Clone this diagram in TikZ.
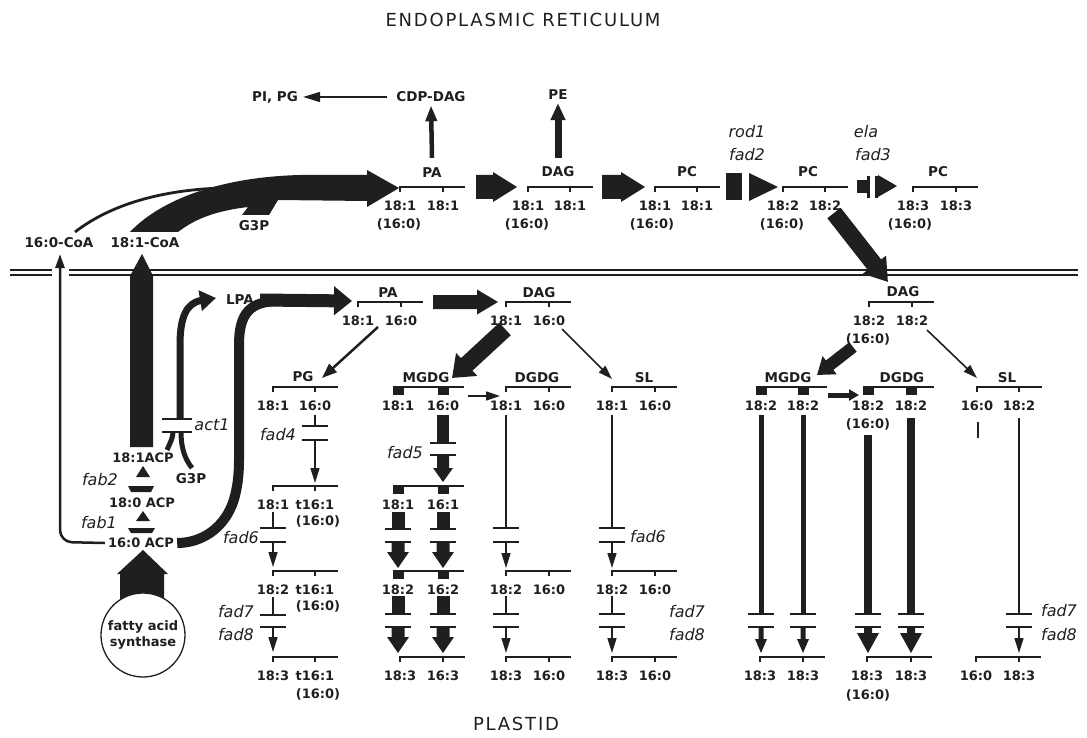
\documentclass[tikz,border=0pt]{standalone}
\usepackage{fontspec}
\setmainfont{DejaVu Sans}
\newfontfamily\titlefont[LetterSpace=10]{DejaVu Sans}
\usetikzlibrary{arrows.meta}
\definecolor{ink}{gray}{0.12}

% fatty-acid bracket: name, x, y, label1, label2, tick spacing
\newcommand{\Brk}[6]{%
  \draw[brk] (#2,#3+5) -- (#2,#3) -- (#2+65,#3);
  \draw[brk] (#2+#6,#3) -- (#2+#6,#3+5);
  \node[num] (#1a) at (#2,#3+18.5) {#4};
  \node[num] (#1b) at (#2+#6,#3+18.5) {#5};}
% bracket with filled blocks
\newcommand{\BrkB}[6]{%
  \draw[brk] (#2-5,#3) -- (#2+66,#3);
  \fill[ink] (#2-5.5,#3) rectangle (#2+5.5,#3+8);
  \fill[ink] (#2+#6-5.5,#3) rectangle (#2+#6+5.5,#3+8);
  \node[num] (#1a) at (#2,#3+19) {#4};
  \node[num] (#1b) at (#2+#6,#3+19) {#5};}
% thin blocked step: x, ytop, bar1, bar2, tip
\newcommand{\StepT}[5]{%
  \draw[lw] (#1,#2) -- (#1,#3);
  \draw[bar] (#1-13,#3) -- (#1+13,#3);
  \draw[bar] (#1-13,#4) -- (#1+13,#4);
  \draw[lw,-{Triangle[length=15pt,width=9pt]}] (#1,#4) -- (#1,#5);}
% thick blocked step: x, ytop, bar1, bar2, tip, shaft half, head half, head length
\newcommand{\StepK}[8]{%
  \fill[ink] (#1-#6,#2) rectangle (#1+#6,#3);
  \draw[bar] (#1-13,#3) -- (#1+13,#3);
  \draw[bar] (#1-13,#4) -- (#1+13,#4);
  \fill[ink] (#1-#6,#4) -- (#1+#6,#4) -- (#1+#6,#5-#8) -- (#1+#7,#5-#8) -- (#1,#5) -- (#1-#7,#5-#8) -- (#1-#6,#5-#8) -- cycle;}
% block arrow to the right: x1, x2, y, shaft half, head half, head length
\newcommand{\RArr}[6]{%
  \fill[ink] (#1,#3-#4) -- (#2-#6,#3-#4) -- (#2-#6,#3-#5) -- (#2,#3) -- (#2-#6,#3+#5) -- (#2-#6,#3+#4) -- (#1,#3+#4) -- cycle;}

\begin{document}
\begin{tikzpicture}[x=1pt,y=-1pt,
  num/.style={font=\bfseries\fontsize{13}{15}\selectfont, inner sep=0pt, text=ink},
  nm/.style={font=\bfseries\fontsize{13.5}{15}\selectfont, inner sep=0pt, text=ink},
  gene/.style={font=\itshape\fontsize{16}{18}\selectfont, inner sep=0pt, text=ink},
  ttl/.style={font=\titlefont\fontsize{18}{20}\selectfont, inner sep=0pt, text=ink},
  brk/.style={line width=1.3pt, draw=ink},
  bar/.style={line width=1.5pt, draw=ink},
  lw/.style={line width=1.5pt, draw=ink},
  thinarr/.style={line width=1.6pt, draw=ink, -{Triangle[length=14pt,width=9pt]}},
  mem/.style={line width=1.4pt, draw=ink}]
\useasboundingbox (0,0) rectangle (1087,738);

% titles
\node[ttl] (er) at (523,20) {ENDOPLASMIC RETICULUM};
\node[ttl] (plastid) at (516,724) {PLASTID};

% membrane
\draw[mem] (10,270) -- (52,270) (10,275) -- (52,275) (69,270) -- (1078,270) (69,275) -- (1078,275);

% ===== ER =====
\node[nm] (pipg) at (275,97) {PI, PG};
\node[nm] (cdp) at (431,97) {CDP-DAG};
\draw[line width=1.6pt, draw=ink, -{Triangle[length=17pt,width=10pt]}, shorten <=9pt, shorten >=5pt] (cdp.west) -- (pipg.east);

\node[nm] (paer) at (432,173) {PA};
\Brk{paer}{400}{187}{18:1}{18:1}{43}
\node[num] (paerc) at (399,224) {(16:0)};
\draw[line width=4.5pt, draw=ink, -{Triangle[length=16pt,width=11pt]}] ([yshift=10pt]paer.north) -- ([yshift=-3pt]cdp.south);

\node[nm] (dager) at (558,172) {DAG};
\Brk{dager}{528}{187}{18:1}{18:1}{42}
\node[num] (dagerc) at (527,224) {(16:0)};
\node[nm] (pe) at (558,95) {PE};
\draw[line width=7pt, draw=ink, -{Triangle[length=17pt,width=14pt]}] ([yshift=9pt]dager.north) -- ([yshift=-3pt]pe.south);

\node[nm] (pca) at (687,172) {PC};
\Brk{pca}{655}{187}{18:1}{18:1}{42}
\node[num] (pcac) at (652,224) {(16:0)};
\node[nm] (pcb) at (808,172) {PC};
\Brk{pcb}{783}{187}{18:2}{18:2}{42}
\node[num] (pcbc) at (782,224) {(16:0)};
\node[nm] (pcc) at (938,172) {PC};
\Brk{pcc}{913}{187}{18:3}{18:3}{43}
\node[num] (pccc) at (910,224) {(16:0)};

\RArr{476}{517}{187}{12}{15}{24}
\RArr{602}{645}{187}{12}{15}{24}
% rod1 / fad2 blocked step
\fill[ink] (726,173) rectangle (742,200);
\fill[ink] (749,173) -- (778,187) -- (749,201) -- cycle;
\node[gene] (rod1) at (747,132) {rod1};
\node[gene] (fad2) at (747,155) {fad2};
% ela / fad3 blocked step
\fill[ink] (857,180) rectangle (867,193);
\fill[ink] (867,176) rectangle (870,198);
\fill[ink] (875,176) rectangle (878,198);
\fill[ink] (878,175) -- (897,186) -- (878,197) -- cycle;
\node[gene] (ela) at (866,132) {ela};
\node[gene] (fad3) at (873,155) {fad3};

% ER -> plastid DAG
\draw[line width=17pt, draw=ink, -{Triangle[length=22pt,width=28pt]}] (834,213) -- (888,282);

% acyl-CoA to PA
\node[nm] (c16) at (59,243) {16:0-CoA};
\node[nm] (c18) at (145,243) {18:1-CoA};
\fill[ink] (130,232) .. controls (160,200) and (220,177) .. (300,175) -- (367,175) -- (367,170) -- (399,188) -- (367,207) -- (367,201) -- (278,200) -- (269,215) -- (242,215) -- (248,207) .. controls (215,211) and (195,219) .. (178,232) -- cycle;
\draw[line width=2.8pt, draw=ink] (75,232) .. controls (110,205) and (160,190) .. (222,188);
\node[nm] (g3per) at (254,226) {G3P};

% ===== plastid: acyl-ACP =====
\node[num] (acp18a) at (143,458) {18:1ACP};
\node[num] (acp18) at (142,503) {18:0 ACP};
\node[num] (acp16) at (141,543) {16:0 ACP};
\node[gene] (fab2) at (100,480) {fab2};
\node[gene] (fab1) at (99,523) {fab1};
\fill[ink] (136,477) -- (143,466) -- (150,477) -- cycle;
\fill[ink] (128,486) -- (154,486) -- (151,492) -- (131,492) -- cycle;
\fill[ink] (136,521) -- (143,511) -- (150,521) -- cycle;
\fill[ink] (128,528) -- (155,528) -- (152,533) -- (131,533) -- cycle;

% export arrows
\draw[line width=2.5pt, draw=ink, rounded corners=12pt, -{Triangle[length=14pt,width=9pt]}] ([xshift=-3pt]acp16.west) -- (60,542) -- (60,254);
\fill[ink] (130,447) -- (130,276) -- (142,254) -- (153,276) -- (153,447) -- cycle;

% fatty acid synthase
\fill[ink] (120,605) -- (120,574) -- (117,574) -- (143,550) -- (168,574) -- (164,574) -- (164,605) -- cycle;
\node[circle, draw=ink, line width=1.3pt, fill=white, minimum size=84pt, inner sep=0pt, align=center, font=\bfseries\fontsize{13}{16}\selectfont, text=ink] (fas) at (143,635) {fatty acid\\synthase};

% act1
\node[gene] (act1) at (212,425) {act1};
\node[nm] (g3pps) at (191,479) {G3P};
\node[nm] (lpa) at (240,300) {LPA};
\draw[line width=5pt, draw=ink] (167,450) .. controls (170,443) and (173,438) .. (173,432);
\draw[line width=5pt, draw=ink] (192,468) .. controls (184,458) and (181,446) .. (181,432);
\draw[bar] (162,419) -- (192,419);
\draw[bar] (162,432) -- (192,432);
\draw[line width=7pt, draw=ink, -{Triangle[length=16pt,width=20pt]}] (180,419) -- (180,345) .. controls (180,318) and (186,303) .. (216,298);

% 16:0 ACP and LPA to PA
\draw[line width=10pt, draw=ink] ([xshift=3pt]acp16.east) .. controls (200,543) and (222,530) .. (232,505) .. controls (236,495) and (239,480) .. (239,460) -- (239,345) .. controls (239,313) and (250,301) .. (280,301);
\draw[line width=13pt, draw=ink, -{Triangle[length=18pt,width=28pt]}] ([xshift=6pt]lpa.east) -- (352,301);

% ===== plastid top =====
\node[nm] (paps) at (388,293) {PA};
\Brk{paps}{358}{302}{18:1}{16:0}{43}
\RArr{433}{498}{302}{7}{12.5}{21}
\node[nm] (dagps) at (539,293) {DAG};
\Brk{dagps}{506}{302}{18:1}{16:0}{43}

% PG column
\draw[line width=2.5pt, draw=ink, -{Triangle[length=15pt,width=11pt]}] (378,327) -- (322,378);
\node[nm] (pg) at (303,377) {PG};
\Brk{pg}{273}{387}{18:1}{16:0}{42}
\StepT{315}{415}{426}{440}{483}
\node[gene] (fad4) at (278,435) {fad4};
\Brk{pgb}{273}{486}{18:1}{t16:1}{42}
\node[num] (pgbc) at (318,521) {(16:0)};
\StepT{273}{512}{528}{542}{567}
\node[gene] (fad6a) at (241,538) {fad6};
\Brk{pgc}{273}{571}{18:2}{t16:1}{42}
\node[num] (pgcc) at (318,606) {(16:0)};
\StepT{273}{597}{615}{627}{652}
\node[gene] (fad7a) at (236,612) {fad7};
\node[gene] (fad8a) at (236,635) {fad8};
\Brk{pgd}{273}{657}{18:3}{t16:1}{42}
\node[num] (pgdc) at (318,694) {(16:0)};

% MGDG column (left)
\draw[line width=17pt, draw=ink, -{Triangle[length=20pt,width=30pt]}] (505,329) -- (452,378);
\node[nm] (mgdga) at (426,378) {MGDG};
\BrkB{mga}{398}{387}{18:1}{16:0}{45}
\draw[thinarr] (468,396) -- (500,396);
\StepK{443}{415}{443}{455}{482}{6}{10}{14}
\node[gene] (fad5) at (405,453) {fad5};
\BrkB{mgb}{398}{486}{18:1}{16:1}{45}
\StepK{398}{512}{529}{542}{568}{6.5}{11}{16}
\StepK{443}{512}{529}{542}{568}{6.5}{11}{16}
\BrkB{mgc}{398}{571}{18:2}{16:2}{45}
\StepK{398}{596}{614}{627}{653}{6.5}{11}{16}
\StepK{443}{596}{614}{627}{653}{6.5}{11}{16}
\Brk{mgd}{400}{657}{18:3}{16:3}{43}

% DGDG column (left)
\node[nm] (dgdga) at (537,378) {DGDG};
\Brk{dga}{506}{387}{18:1}{16:0}{43}
\StepT{506}{415}{528}{542}{568}
\Brk{dgb}{506}{571}{18:2}{16:0}{43}
\StepT{506}{596}{614}{627}{653}
\Brk{dgc}{506}{657}{18:3}{16:0}{43}

% SL column (left)
\draw[thinarr] (562,329) -- (612,379);
\node[nm] (sl1) at (644,378) {SL};
\Brk{sla}{612}{387}{18:1}{16:0}{43}
\StepT{612}{415}{528}{542}{568}
\node[gene] (fad6b) at (648,537) {fad6};
\Brk{slb}{612}{571}{18:2}{16:0}{43}
\StepT{612}{596}{614}{627}{653}
\node[gene] (fad7b) at (687,612) {fad7};
\node[gene] (fad8b) at (687,635) {fad8};
\Brk{slc}{612}{657}{18:3}{16:0}{43}

% ===== right plastid group =====
\node[nm] (dagr) at (903,292) {DAG};
\Brk{dagr}{869}{302}{18:2}{18:2}{43}
\node[num] (dagrc) at (868,339) {(16:0)};
\draw[line width=12pt, draw=ink, -{Triangle[length=16pt,width=22pt]}] (853,347) -- (817,375);
\draw[thinarr] (927,330) -- (977,378);

\node[nm] (mgr) at (788,378) {MGDG};
\BrkB{mgr}{761}{387}{18:2}{18:2}{42}
\draw[line width=5pt, draw=ink, -{Triangle[length=10pt,width=11pt]}] (828,395) -- (859,395);
\node[nm] (dgr) at (902,378) {DGDG};
\BrkB{dgr}{868}{387}{18:2}{18:2}{43}
\node[num] (dgrc) at (868,424) {(16:0)};
\node[nm] (slr) at (1007,378) {SL};
\Brk{slr}{977}{387}{16:0}{18:2}{42}
\draw[lw] (978,422) -- (978,438);

\StepK{761}{415}{614}{627}{653}{2.5}{6}{14}
\StepK{803}{415}{614}{627}{653}{2.5}{6}{14}
\StepK{868}{435}{614}{627}{653}{4}{11}{20}
\StepK{911}{418}{614}{627}{653}{4}{11}{20}
\StepT{1019}{418}{614}{627}{653}
\node[gene] (fad7c) at (1059,611) {fad7};
\node[gene] (fad8c) at (1059,635) {fad8};

\Brk{mgr2}{760}{657}{18:3}{18:3}{43}
\Brk{dgr2}{867}{657}{18:3}{18:3}{44}
\node[num] (dgr2c) at (868,695) {(16:0)};
\Brk{slr2}{976}{657}{16:0}{18:3}{43}
\end{tikzpicture}
\end{document}
